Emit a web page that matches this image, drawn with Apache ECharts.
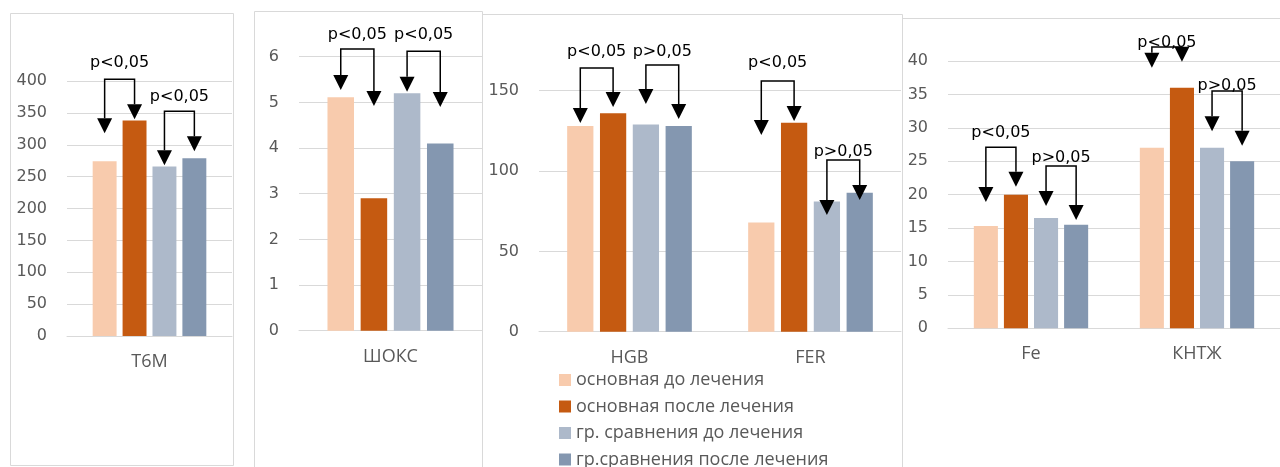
<!DOCTYPE html>
<html>
<head>
<meta charset="utf-8">
<script src="https://cdn.jsdelivr.net/npm/echarts@6/dist/echarts.min.js"></script>
<style>
html,body{margin:0;padding:0;background:#fff;}
#chart{width:1280px;height:467px;}
</style>
</head>
<body>
<div id="chart"></div>
<script>
// ---- data ----
const seriesNames = ['основная до лечения', 'основная после лечения', 'гр. сравнения до лечения', 'гр.сравнения после лечения'];

const cats1 = ['Т6М'];
const vals1 = [[274], [338], [266], [279]];
const cats2 = ['ШОКС'];
const vals2 = [[5.11], [2.9], [5.2], [4.1]];
const cats3 = ['HGB', 'FER'];
const vals3 = [[128, 68], [136, 130], [129, 81], [128, 86.5]];
const cats4 = ['Fe', 'КНТЖ'];
const vals4 = [[15.3, 27], [20, 36], [16.5, 27], [15.5, 25]];

const yMax1 = 400, yStep1 = 50;
const yMax2 = 6, yStep2 = 1;
const yMax3 = 150, yStep3 = 50;
const yMax4 = 40, yStep4 = 5;

// significance brackets: [category, left bar, right bar, bracket top, left arrow tip, right arrow tip, label level, label]
const ann1 = [[0, 0, 1, 402.7, 318, 340, 427.8, 'p<0,05'], [0, 2, 3, 352.5, 268, 290, 374.4, 'p<0,05']];
const ann2 = [[0, 0, 1, 6.17, 5.27, 4.92, 6.47, 'p<0,05'], [0, 2, 3, 6.12, 5.23, 4.90, 6.47, 'p<0,05']];
const ann3 = [[0, 0, 1, 164.1, 129.9, 139.9, 174.1, 'p<0,05'], [0, 2, 3, 166, 141.7, 132.4, 174.1, 'p>0,05'],
              [1, 0, 1, 156, 122.4, 131.1, 167.3, 'p<0,05'], [1, 2, 3, 106.9, 72.6, 82, 111.8, 'p>0,05']];
const ann4 = [[0, 0, 1, 27.1, 18.9, 21.2, 29.2, 'p<0,05'], [0, 2, 3, 24.3, 18.3, 16.2, 25.5, 'p>0,05'],
              [1, 0, 1, 42.1, 39.0, 39.9, 42.7, 'p<0,05'], [1, 2, 3, 35.5, 29.5, 27.3, 36.3, 'p>0,05']];

// ---- styles ----
const colors = ['#F8CBAD', '#C55A11', '#ADB9CA', '#8497B0'];
const FONT = 'Open Sans';
const NUMFONT = 'DejaVu Sans';
const BAR_W = 0.145;   // fraction of category band
const BAR_GAP = 0.25;  // fraction of bar width
const grids = [
  {left: 67, top: 81, width: 165, height: 255},
  {left: 299, top: 56.7, width: 183, height: 274},
  {left: 539, top: 90.7, width: 362, height: 241},
  {left: 948, top: 61, width: 344, height: 267.3}
];
const catsAll = [cats1, cats2, cats3, cats4];
const valsAll = [vals1, vals2, vals3, vals4];
const maxAll = [yMax1, yMax2, yMax3, yMax4];
const stepAll = [yStep1, yStep2, yStep3, yStep4];
const annAll = [ann1, ann2, ann3, ann4];

function barOffset(i) {
  const total = 4 * BAR_W + 3 * BAR_GAP * BAR_W;
  return -total / 2 + BAR_W / 2 + i * BAR_W * (1 + BAR_GAP);
}

const xAxes = [], yAxes = [], series = [];
grids.forEach((g, k) => {
  xAxes.push({
    type: 'category', gridIndex: k, data: catsAll[k],
    axisLine: {show: true, lineStyle: {color: '#d9d9d9', width: 1}},
    axisTick: {show: false},
    axisLabel: {color: '#595959', fontSize: 18, fontFamily: FONT, margin: 17}
  });
  yAxes.push({
    type: 'value', gridIndex: k, min: 0, max: maxAll[k], interval: stepAll[k],
    axisLine: {show: false}, axisTick: {show: false},
    splitLine: {lineStyle: {color: '#d9d9d9', width: 1}},
    axisLabel: {color: '#595959', fontSize: 16, fontFamily: NUMFONT, margin: 20}
  });
  valsAll[k].forEach((v, i) => {
    series.push({
      type: 'bar', name: seriesNames[i], xAxisIndex: k, yAxisIndex: k,
      data: v, barWidth: (BAR_W * 100) + '%', barGap: (BAR_GAP * 100) + '%',
      itemStyle: {color: colors[i]}, animation: false
    });
  });
  const ann = annAll[k];
  series.push({
    type: 'custom', xAxisIndex: k, yAxisIndex: k, z: 5, clip: false, animation: false,
    silent: true,
    encode: {x: 0, y: 3},
    data: ann.map(a => a.slice(0, 7)),
    renderItem: function (params, api) {
      const cat = api.value(0);
      const band = api.size([1, 0])[0];
      const base = api.coord([cat, 0]);
      const xL = base[0] + barOffset(api.value(1)) * band;
      const xR = base[0] + barOffset(api.value(2)) * band;
      const yTop = api.coord([cat, api.value(3)])[1];
      const yLT = api.coord([cat, api.value(4)])[1];
      const yRT = api.coord([cat, api.value(5)])[1];
      const yLab = api.coord([cat, api.value(6)])[1];
      const AH = 15, AW = 7.5;
      return {
        type: 'group',
        children: [
          {type: 'polyline', shape: {points: [[xL, yLT - AH], [xL, yTop], [xR, yTop], [xR, yRT - AH]]},
           style: {stroke: '#000', lineWidth: 1.5, fill: null}},
          {type: 'polygon', shape: {points: [[xL - AW, yLT - AH], [xL + AW, yLT - AH], [xL, yLT]]},
           style: {fill: '#000'}},
          {type: 'polygon', shape: {points: [[xR - AW, yRT - AH], [xR + AW, yRT - AH], [xR, yRT]]},
           style: {fill: '#000'}},
          {type: 'text', style: {x: (xL + xR) / 2, y: yLab, text: ann[params.dataIndex][7],
            align: 'center', verticalAlign: 'middle', fontSize: 16, fontFamily: NUMFONT, fill: '#000'}}
        ]
      };
    }
  });
});

const borderStyle = {fill: null, stroke: '#d9d9d9', lineWidth: 1};
const option = {
  animation: false,
  backgroundColor: '#fff',
  grid: grids.map(g => Object.assign({containLabel: false}, g)),
  xAxis: xAxes,
  yAxis: yAxes,
  legend: {
    data: seriesNames, orient: 'vertical', left: 559, top: 371, height: 200, padding: 0,
    itemWidth: 12, itemHeight: 12, itemGap: 8.5, icon: 'rect',
    textStyle: {color: '#595959', fontSize: 18, lineHeight: 18, fontFamily: FONT}
  },
  graphic: [
    {type: 'rect', z: -10, shape: {x: 10.5, y: 13.5, width: 223, height: 452}, style: borderStyle},
    {type: 'rect', z: -10, shape: {x: 254.5, y: 11.5, width: 228, height: 470}, style: borderStyle},
    {type: 'rect', z: -10, shape: {x: 482.5, y: 14.5, width: 420, height: 470}, style: borderStyle},
    {type: 'rect', z: -10, shape: {x: 902.5, y: 18.5, width: 400, height: 470}, style: borderStyle}
  ],
  series: series
};
const chart = echarts.init(document.getElementById('chart'), null, {renderer: 'canvas'});
chart.setOption(option);
</script>
</body>
</html>
